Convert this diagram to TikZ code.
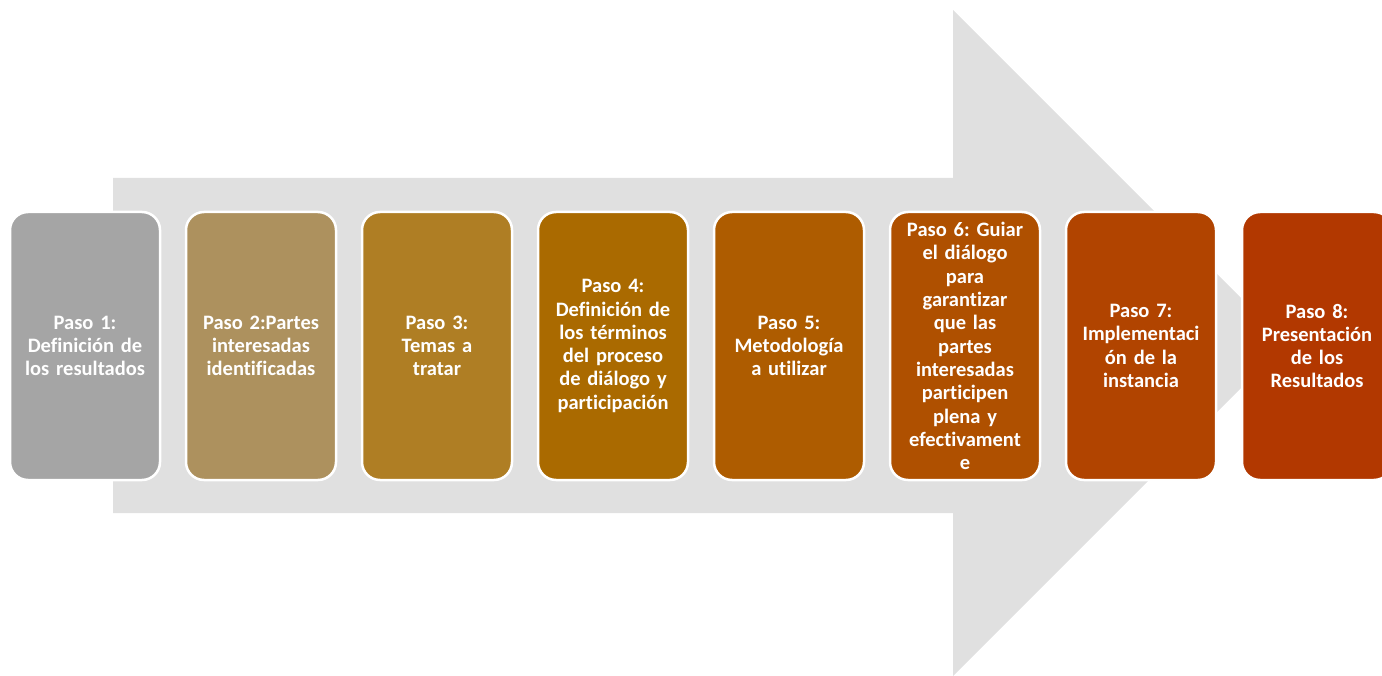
\documentclass[tikz,border=0pt]{standalone}
\usepackage{fontspec}
\setmainfont[Ligatures=NoCommon]{Carlito}
\usepackage{tikz}
\usetikzlibrary{positioning}
\frenchspacing
\definecolor{arrowgray}{RGB}{224,224,224}
\definecolor{pasoA}{RGB}{165,165,165}
\definecolor{pasoB}{RGB}{173,145,94}
\definecolor{pasoC}{RGB}{175,126,36}
\definecolor{pasoD}{RGB}{170,106,0}
\definecolor{pasoE}{RGB}{174,92,0}
\definecolor{pasoF}{RGB}{175,80,0}
\definecolor{pasoG}{RGB}{177,68,0}
\definecolor{pasoH}{RGB}{178,56,0}
\tikzset{%
    pasobox/.style={%
        draw=white, line width=2.5pt, fill=#1,
        rounded corners=18pt, outer sep=0pt,
        minimum width=150pt, minimum height=268pt,
        text=white, align=center, text width=132pt,
        font=\fontsize{20.5}{23.3}\selectfont\bfseries
    }
}

\begin{document}
\begin{tikzpicture}[x=1pt,y=-1pt,node distance=26pt]
    \useasboundingbox (0,0) rectangle (1382,676);
    \clip (0,0) rectangle (1382,676);
    \fill[arrowgray] (113,178) -- (953,178) -- (953,10) -- (1286,343)
        -- (953,676) -- (953,513) -- (113,513) -- cycle;
    \node[pasobox=pasoA] (paso1) at (85,346) {Paso 1:\\Definición de\\los resultados};
    \node[pasobox=pasoB, right=of paso1] (paso2) {Paso 2:Partes\\interesadas\\identificadas};
    \node[pasobox=pasoC, right=of paso2] (paso3) {Paso 3:\\Temas a\\tratar};
    \node[pasobox=pasoD, right=of paso3] (paso4) {Paso 4:\\Definición de\\los términos\\del proceso\\de diálogo y\\participación};
    \node[pasobox=pasoE, right=of paso4] (paso5) {Paso 5:\\Metodología\\a utilizar};
    \node[pasobox=pasoF, right=of paso5] (paso6) {Paso 6: Guiar\\el diálogo\\para\\garantizar\\que las\\partes\\interesadas\\participen\\plena y\\efectivament\\e};
    \node[pasobox=pasoG, right=of paso6] (paso7) {Paso 7:\\Implementaci\\ón de la\\instancia};
    \node[pasobox=pasoH, right=of paso7] (paso8) {Paso 8:\\Presentación\\de los\\Resultados};
\end{tikzpicture}
\end{document}
